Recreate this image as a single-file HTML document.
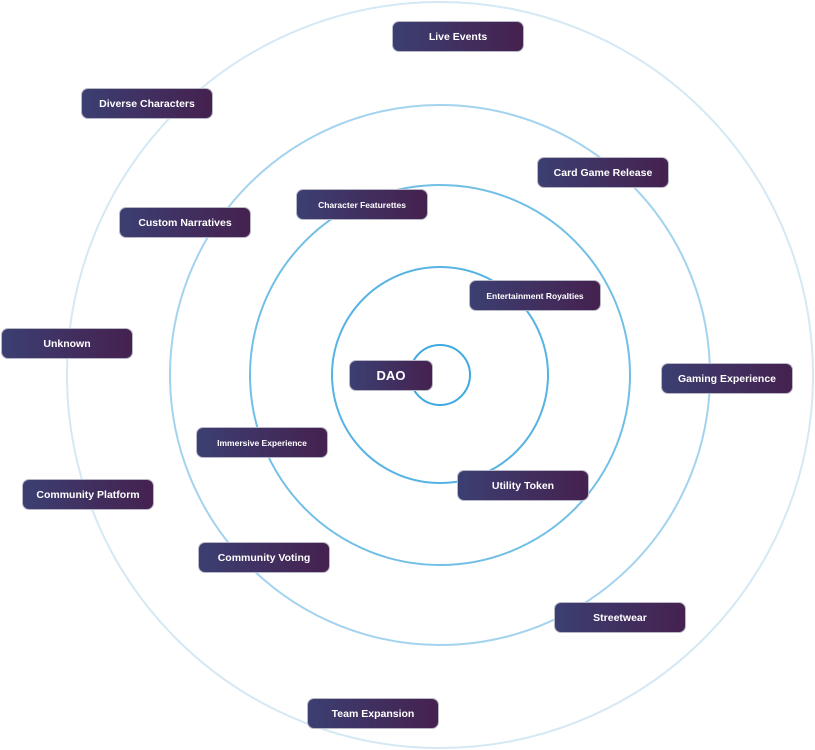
<!DOCTYPE html>
<html><head><style>
body{margin:0;width:815px;height:750px;background:#fff;position:relative;overflow:hidden;font-family:"Liberation Sans",sans-serif}
svg{position:absolute;left:0;top:0}
.p{position:absolute;width:130px;height:29px;border:1.5px solid #b9b9c6;border-radius:7px;background:linear-gradient(90deg,#3c3f72,#45214f);color:#fff;font-weight:bold;font-size:10.5px;display:flex;align-items:center;justify-content:center;box-sizing:content-box}
.s{font-size:8.5px}
</style></head><body>
<svg width="815" height="750">
<g fill="none">
<circle cx="440" cy="375" r="373" stroke="#d4e9f4" stroke-width="2"/>
<circle cx="440" cy="375" r="270" stroke="#a3d3ee" stroke-width="2"/>
<circle cx="440" cy="375" r="190" stroke="#72bfe6" stroke-width="2"/>
<circle cx="440" cy="375" r="108" stroke="#56b3e3" stroke-width="2"/>
<circle cx="440" cy="375" r="30" stroke="#3fa9e0" stroke-width="2"/>
</g></svg>
<div class="p" style="left:392px;top:21px">Live Events</div>
<div class="p" style="left:81px;top:88px">Diverse Characters</div>
<div class="p" style="left:537px;top:157px">Card Game Release</div>
<div class="p s" style="left:296px;top:189px">Character Featurettes</div>
<div class="p" style="left:119px;top:207px">Custom Narratives</div>
<div class="p s" style="left:469px;top:280px">Entertainment Royalties</div>
<div class="p" style="left:1px;top:328px">Unknown</div>
<div class="p" style="left:349px;top:360px;width:82px;font-size:13px">DAO</div>
<div class="p" style="left:661px;top:363px">Gaming Experience</div>
<div class="p s" style="left:196px;top:427px">Immersive Experience</div>
<div class="p" style="left:457px;top:470px">Utility Token</div>
<div class="p" style="left:22px;top:479px">Community Platform</div>
<div class="p" style="left:198px;top:542px">Community Voting</div>
<div class="p" style="left:554px;top:602px">Streetwear</div>
<div class="p" style="left:307px;top:698px">Team Expansion</div>
</body></html>
